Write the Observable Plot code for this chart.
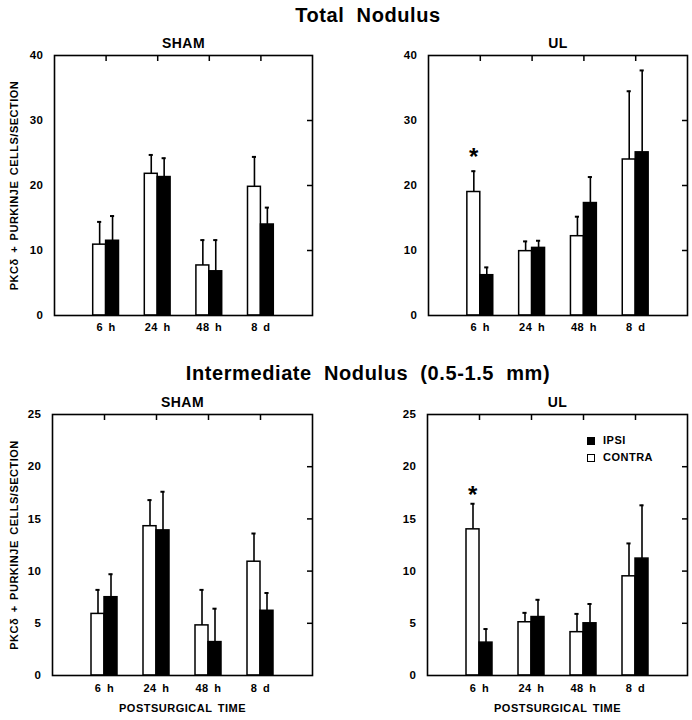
<!DOCTYPE html>
<html><head><meta charset="utf-8">
<script src="https://cdn.jsdelivr.net/npm/d3@7"></script>
<script src="https://cdn.jsdelivr.net/npm/@observablehq/plot@0.6"></script>
<style>
body{margin:0;background:#fff;}
#root{position:relative;width:692px;height:720px;font-family:"Liberation Sans",Arial,sans-serif;font-weight:bold;color:#000;overflow:hidden;}
.title{position:absolute;left:22px;width:692px;text-align:center;font-size:20px;letter-spacing:0.6px;word-spacing:6px;line-height:20px;white-space:pre;}
.panel{position:absolute;}
.leg{position:absolute;left:587px;height:11px;font-size:11px;letter-spacing:0.5px;line-height:11px;display:flex;align-items:center;}
.sw{width:8px;height:8px;box-sizing:border-box;border:1.5px solid #000;margin-right:8px;}
</style></head><body><div id="root"></div>
<script>
// ---- data ----
const times = ["6 h", "24 h", "48 h", "8 d"];
const yLabel = "PKCδ + PURKINJE CELLS/SECTION";
const xLabel = "POSTSURGICAL TIME";

// Total Nodulus
const totalShamContra = [10.9, 21.8, 7.7, 19.8];
const totalShamContraSem = [3.5, 2.9, 3.9, 4.6];
const totalShamIpsi = [11.5, 21.3, 6.8, 14.0];
const totalShamIpsiSem = [3.8, 2.9, 4.8, 2.6];
const totalUlContra = [19.0, 9.9, 12.2, 24.0];
const totalUlContraSem = [3.2, 1.5, 3.0, 10.5];
const totalUlIpsi = [6.2, 10.4, 17.3, 25.1];
const totalUlIpsiSem = [1.2, 1.1, 4.0, 12.6];
const totalTicks = [0, 10, 20, 30, 40];

// Intermediate Nodulus (0.5-1.5 mm)
const interShamContra = [5.9, 14.3, 4.8, 10.9];
const interShamContraSem = [2.3, 2.5, 3.4, 2.7];
const interShamIpsi = [7.5, 13.9, 3.2, 6.2];
const interShamIpsiSem = [2.2, 3.7, 3.2, 1.7];
const interUlContra = [14.0, 5.1, 4.15, 9.5];
const interUlContraSem = [2.45, 0.9, 1.75, 3.15];
const interUlIpsi = [3.15, 5.6, 5.0, 11.2];
const interUlIpsiSem = [1.3, 1.65, 1.85, 5.1];
const interTicks = [0, 5, 10, 15, 20, 25];

// significant differences (time labels)
const totalUlSig = ["6 h"];
const interUlSig = ["6 h"];

const FONT = '"Liberation Sans", Arial, sans-serif';
const root = document.getElementById("root");

function rows(contra, contraSem, ipsi, ipsiSem) {
  const out = [];
  times.forEach((t, k) => {
    const i = k + 1;
    out.push({t, i, side: "contra", v: contra[k], sem: contraSem[k], x1: i - 0.25, x2: i, c: i - 0.125});
    out.push({t, i, side: "ipsi", v: ipsi[k], sem: ipsiSem[k], x1: i, x2: i + 0.25, c: i + 0.125});
  });
  return out;
}

function panel(o) {
  const data = rows(o.contra, o.contraSem, o.ipsi, o.ipsiSem);
  const fw = o.width - o.ml - o.mr;
  const fh = o.height - o.mt - o.mb;
  const yMax = o.ticks[o.ticks.length - 1];
  const inner = o.ticks.filter(d => d > 0 && d < yMax);
  const sig = data.filter(d => d.side === "contra" && o.sig.includes(d.t));
  const marks = [
    Plot.rect(data.filter(d => d.side === "contra"), {x1: "x1", x2: "x2", y1: 0, y2: "v", fill: "white", stroke: "black", strokeWidth: 1.5}),
    Plot.rect(data.filter(d => d.side === "ipsi"), {x1: "x1", x2: "x2", y1: 0, y2: "v", fill: "black", stroke: "black", strokeWidth: 1.5}),
    Plot.ruleX(data, {x: "c", y1: "v", y2: d => d.v + d.sem, stroke: "black", strokeWidth: 1.6}),
    Plot.ruleY(data, {y: d => d.v + d.sem, x1: d => d.c - 0.04, x2: d => d.c + 0.04, stroke: "black", strokeWidth: 2}),
    Plot.frame({stroke: "black", strokeWidth: 1.6}),
    Plot.ruleX([1, 2, 3, 4], {x: d => d, insetBottom: fh - 6, stroke: "black", strokeWidth: 1.5}),
    Plot.ruleY(inner, {y: d => d, insetLeft: fw - 5, stroke: "black", strokeWidth: 1.5}),
    Plot.axisY({ticks: o.ticks, tickSize: 0, tickPadding: 11, label: null, fontSize: 11.5}),
    Plot.axisX({ticks: [1, 2, 3, 4], tickFormat: i => times[i - 1], tickSize: 0, tickPadding: o.xPad, label: null, fontSize: 11}),
    Plot.text([o.title], {frameAnchor: "top", dy: -12, fontSize: 14, lineAnchor: "middle", letterSpacing: "0.6px"}),
    Plot.text(sig, {x: "c", y: d => d.v + d.sem, text: () => "*", dy: o.sigDy, fontSize: 24, lineAnchor: "middle"})
  ];
  if (o.yLab) marks.push(Plot.text([yLabel], {frameAnchor: "left", textAnchor: "middle", rotate: -90, dx: -(o.ml - 14), fontSize: 11}));
  if (o.xLab) marks.push(Plot.text([xLabel], {frameAnchor: "bottom", textAnchor: "middle", dy: 36, fontSize: 11}));
  const svg = Plot.plot({
    width: o.width, height: o.height,
    marginLeft: o.ml, marginRight: o.mr, marginTop: o.mt, marginBottom: o.mb,
    x: {type: "linear", domain: [0, 5]},
    y: {type: "linear", domain: [0, yMax]},
    style: {fontFamily: FONT, fontWeight: "bold", fontSize: "11px", letterSpacing: "0.5px", wordSpacing: "2px", background: "none", color: "black", overflow: "visible"},
    marks
  });
  svg.classList.add("panel");
  svg.style.left = o.left + "px";
  svg.style.top = o.top + "px";
  root.appendChild(svg);
}

function title(text, top) {
  const d = document.createElement("div");
  d.className = "title";
  d.style.top = top + "px";
  d.textContent = text;
  root.appendChild(d);
}

title("Total Nodulus", 5);
title("Intermediate Nodulus (0.5-1.5 mm)", 363);

panel({left: 0, top: 30, width: 346, height: 310, ml: 54, mr: 34, mt: 25, mb: 25, xPad: 8,
  title: "SHAM", contra: totalShamContra, contraSem: totalShamContraSem, ipsi: totalShamIpsi, ipsiSem: totalShamIpsiSem,
  ticks: totalTicks, sig: [], sigDy: -14, yLab: true, xLab: false});
panel({left: 346, top: 30, width: 346, height: 310, ml: 82, mr: 5, mt: 25, mb: 25, xPad: 8,
  title: "UL", contra: totalUlContra, contraSem: totalUlContraSem, ipsi: totalUlIpsi, ipsiSem: totalUlIpsiSem,
  ticks: totalTicks, sig: totalUlSig, sigDy: -14, yLab: false, xLab: false});
panel({left: 0, top: 390, width: 346, height: 330, ml: 52, mr: 34, mt: 24, mb: 45, xPad: 9,
  title: "SHAM", contra: interShamContra, contraSem: interShamContraSem, ipsi: interShamIpsi, ipsiSem: interShamIpsiSem,
  ticks: interTicks, sig: [], sigDy: -8, yLab: true, xLab: true});
panel({left: 346, top: 390, width: 346, height: 330, ml: 81, mr: 5, mt: 24, mb: 45, xPad: 9,
  title: "UL", contra: interUlContra, contraSem: interUlContraSem, ipsi: interUlIpsi, ipsiSem: interUlIpsiSem,
  ticks: interTicks, sig: interUlSig, sigDy: -8, yLab: false, xLab: true});

// legend
[["IPSI", "black", 435], ["CONTRA", "white", 452]].forEach(([name, fill, top]) => {
  const d = document.createElement("div");
  d.className = "leg";
  d.style.top = top + "px";
  const s = document.createElement("span");
  s.className = "sw";
  s.style.background = fill;
  d.appendChild(s);
  d.appendChild(document.createTextNode(name));
  root.appendChild(d);
});
</script></body></html>
